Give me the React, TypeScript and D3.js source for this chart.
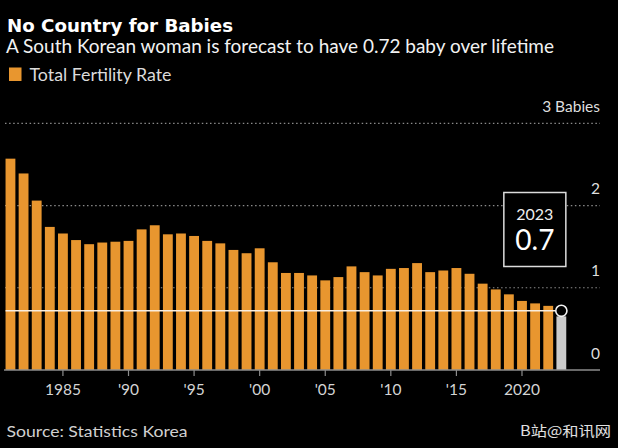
import React, { useEffect } from 'react';
import { scaleBand, scaleLinear } from 'd3';

// Total fertility rate, South Korea
const years = [
  1981, 1982, 1983, 1984, 1985, 1986, 1987, 1988, 1989, 1990,
  1991, 1992, 1993, 1994, 1995, 1996, 1997, 1998, 1999, 2000,
  2001, 2002, 2003, 2004, 2005, 2006, 2007, 2008, 2009, 2010,
  2011, 2012, 2013, 2014, 2015, 2016, 2017, 2018, 2019, 2020,
  2021, 2022, 2023,
];
const tfr = [
  2.57, 2.39, 2.06, 1.74, 1.66, 1.58, 1.53, 1.55, 1.56, 1.57,
  1.71, 1.76, 1.65, 1.66, 1.63, 1.57, 1.54, 1.46, 1.42, 1.48,
  1.31, 1.18, 1.18, 1.15, 1.09, 1.13, 1.26, 1.19, 1.15, 1.23,
  1.24, 1.30, 1.19, 1.21, 1.24, 1.17, 1.05, 0.98, 0.92, 0.84,
  0.81, 0.78, 0.72,
];
const tickYears = [1985, 1990, 1995, 2000, 2005, 2010, 2015, 2020];
const tickLabels = ['1985', "'90", "'95", "'00", "'05", "'10", "'15", '2020'];
const yTicks = [0, 1, 2, 3];
const yTickLabels = ['0', '1', '2', '3 Babies'];

const latestYear = 2023;
const latestValue = 0.72;
const latestLabel = '0.7';

const W = 618;
const H = 448;
const ORANGE = '#e8962f';
const GREY_BAR = '#cbcbcb';
const FONT = 'Lato, "Open Sans", sans-serif';

export default function App() {
  useEffect(() => {
    document.body.style.margin = '0';
    document.body.style.background = '#000';
  }, []);

  const x = scaleBand<number>()
    .domain(years)
    .range([3.9, 567.9])
    .paddingInner(0.25)
    .paddingOuter(0.125);

  const y = scaleLinear().domain([0, 3]).range([370, 123.3]);

  const plotRight = 600;
  const lastCx = x(latestYear)! + x.bandwidth() / 2;
  const lastCy = y(latestValue);
  const circleR = 5.6;

  // annotation box sits left of the last bar
  const boxW = 62;
  const boxH = 74;
  const boxX = lastCx - 57.5;
  const boxY = 192.5;

  return (
    <svg
      width={W}
      height={H}
      viewBox={`0 0 ${W} ${H}`}
      style={{ position: 'absolute', left: 0, top: 0, display: 'block', background: '#000' }}
    >
      <rect x={0} y={0} width={W} height={H} fill="#000" />

      {/* header */}
      <text
        x={7}
        y={31.5}
        fill="#fff"
        fontFamily='"DejaVu Sans", Verdana, sans-serif'
        fontWeight={700}
        fontSize={17}
        textLength={226}
        lengthAdjust="spacingAndGlyphs"
      >
        No Country for Babies
      </text>
      <text
        x={6}
        y={52.7}
        fill="#f2f2f2"
        fontFamily={FONT}
        fontSize={19.5}
        textLength={548}
        lengthAdjust="spacingAndGlyphs"
      >
        A South Korean woman is forecast to have 0.72 baby over lifetime
      </text>
      <rect x={9} y={67.5} width={12.5} height={13.5} fill={ORANGE} />
      <text
        x={29.5}
        y={81}
        fill="#dcdcdc"
        fontFamily={FONT}
        fontSize={18}
        textLength={142}
        lengthAdjust="spacingAndGlyphs"
      >
        Total Fertility Rate
      </text>

      {/* dotted gridlines */}
      {yTicks.filter(t => t > 0).map(t => (
        <line
          key={`g${t}`}
          x1={5}
          x2={plotRight}
          y1={y(t)}
          y2={y(t)}
          stroke="#8a8a8a"
          strokeWidth={1.2}
          strokeDasharray="1.5 2.6"
        />
      ))}

      {/* y labels, right aligned above each line */}
      {yTicks.map((t, i) => (
        <text
          key={`yl${t}`}
          x={plotRight}
          y={y(t) - 11.5}
          textAnchor="end"
          fill="#dedede"
          fontFamily={FONT}
          fontSize={15.5}
        >
          {yTickLabels[i]}
        </text>
      ))}

      {/* bars */}
      {years.map((yr, i) => {
        const last = yr === latestYear;
        const top = last ? y(tfr[i]) + circleR : y(tfr[i]);
        return (
          <rect
            key={yr}
            x={x(yr)}
            y={top}
            width={x.bandwidth()}
            height={y(0) - top}
            fill={last ? GREY_BAR : ORANGE}
          />
        );
      })}

      {/* baseline + ticks */}
      <line x1={4} x2={plotRight} y1={y(0)} y2={y(0)} stroke="#8c8c8c" strokeWidth={1.5} />
      {tickYears.map((yr, i) => {
        const cx = x(yr)! + x.bandwidth() / 2;
        return (
          <g key={`t${yr}`}>
            <line x1={cx} x2={cx} y1={y(0)} y2={y(0) + 6} stroke="#8c8c8c" strokeWidth={1.2} />
            <text
              x={cx}
              y={394.5}
              textAnchor="middle"
              fill="#d4d4d4"
              fontFamily={FONT}
              fontSize={15.5}
            >
              {tickLabels[i]}
            </text>
          </g>
        );
      })}

      {/* latest value reference line and marker */}
      <line
        x1={x(years[0])}
        x2={lastCx - circleR}
        y1={lastCy}
        y2={lastCy}
        stroke="#fbeedd"
        strokeWidth={1.6}
      />
      <circle cx={lastCx} cy={lastCy} r={circleR} fill="#000" stroke="#f2f2f2" strokeWidth={1.6} />

      {/* annotation */}
      <rect x={boxX} y={boxY} width={boxW} height={boxH} fill="#000" stroke="#dcdcdc" strokeWidth={1.5} />
      <text
        x={boxX + boxW / 2}
        y={220}
        textAnchor="middle"
        fill="#eeeeee"
        fontFamily={FONT}
        fontSize={16}
      >
        {latestYear}
      </text>
      <text
        x={boxX + boxW / 2}
        y={249.5}
        textAnchor="middle"
        fill="#ffffff"
        fontFamily={FONT}
        fontSize={28}
      >
        {latestLabel}
      </text>

      {/* footer */}
      <text
        x={6.5}
        y={436.7}
        fill="#d0d0d0"
        fontFamily={FONT}
        fontSize={16}
        textLength={181}
        lengthAdjust="spacingAndGlyphs"
      >
        Source: Statistics Korea
      </text>
      <text
        x={520}
        y={436}
        fill="#e0e0e0"
        fontFamily='"Noto Sans CJK SC", sans-serif'
        fontSize={14}
        textLength={91}
        lengthAdjust="spacingAndGlyphs"
      >
        B站@和讯网
      </text>
    </svg>
  );
}
